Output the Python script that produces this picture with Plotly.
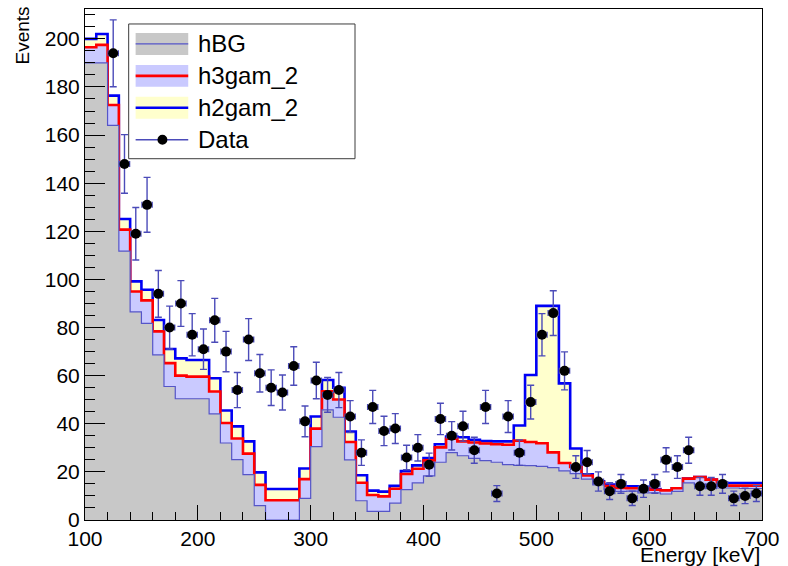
import plotly.graph_objects as go

# ---------------- data ----------------
bin_lo = list(range(100, 700, 10))          # lower bin edges (keV), 10 keV bins
x_max = 700

h_bg = [190, 190, 164, 111.8, 86.5, 81.7, 68.6, 55.5, 50.4, 50.4,
        50.4, 44.1, 32.0, 25.1, 18.9, 6.0, 0, 0, 0, 9.0,
        30.5, 45.8, 42.7, 25.0, 8.0, 3.6, 3.6, 7.0, 12.6, 15.4,
        18.3, 24.0, 28.0, 26.7, 25.6, 24.7, 24.0, 23.0, 22.7, 22.6,
        22.3, 21.8, 20.4, 19.3, 17.0, 14.6, 12.6, 11.9, 12.0, 11.3,
        11.3, 10.8, 11.9, 15.4, 14.7, 13.8, 13.3, 13.3, 13.1, 13.1]

h3gam_2 = [6.5, 7.5, 8.5, 8.9, 8.5, 9.6, 9.8, 9.7, 9.6, 9.2,
           9.2, 9.3, 8.3, 8.8, 8.7, 8.6, 8.2, 8.2, 8.2, 8.0,
           7.5, 7.7, 7.4, 7.4, 7.5, 6.8, 6.2, 6.0, 6.5, 5.9,
           6.5, 6.2, 5.8, 6.0, 6.6, 7.1, 7.5, 8.3, 10.3, 9.8,
           9.6, 6.3, 3.3, 2.7, 1.5, 1.2, 1.5, 1.4, 1.2, 1.9,
           1.3, 1.5, 1.3, 1.8, 3.2, 3.0, 1.0, 1.0, 1.2, 1.2]

h2gam_2 = [3.5, 4.5, 3.9, 4.4, 4.2, 4.4, 4.7, 5.9, 7.2, 6.9,
           6.9, 5.5, 5.2, 5.0, 5.1, 5.2, 4.7, 4.7, 4.7, 4.4,
           5.0, 4.7, 4.9, 4.4, 3.1, 1.8, 2.0, 1.2, 1.2, 1.4,
           1.0, 1.3, 0.9, 1.7, 1.1, 1.0, 1.2, 1.4, 6.3, 27.9,
           57.1, 60.9, 33.1, 7.7, 0.5, 0.3, 0.6, 0.7, 0.8, 0.6,
           0.3, 0, 0, 0, 0, 0, 1.1, 1.1, 1.1, 1.1]

data_x = list(range(125, 700, 10))
data_y = [194, 148, 119, 131, 94, 80, 90, 77, 71, 83,
          70, 54, 75, 61, 55, 53, 64, 41, 58, 52,
          54, 43, 28, 47, 37, 38, 26, 30, 23, 42,
          35, 39, 29, 47, 11, 43, 28, 49, 77, 86,
          62, 22, 24, 16, 12, 15, 9, 13, 15, 25,
          22, 29, 14, 14, 15, 9, 10, 11]
data_err = [13.9, 12.2, 10.9, 11.4, 9.7, 8.9, 9.5, 8.8, 8.4, 9.1,
            8.4, 7.3, 8.7, 7.8, 7.4, 7.3, 8.0, 6.4, 7.6, 7.2,
            7.3, 6.6, 5.3, 6.9, 6.1, 6.2, 5.1, 5.5, 4.8, 6.5,
            5.9, 6.2, 5.4, 6.9, 3.3, 6.6, 5.3, 7.0, 8.8, 9.3,
            7.9, 4.7, 4.9, 4.0, 3.5, 3.9, 3.0, 3.6, 3.9, 5.0,
            4.7, 5.4, 3.7, 3.7, 3.9, 3.0, 3.2, 3.3]
data_xerr = [4.5] * len(data_x)

# ---------------- styles ----------------
FONT = "Liberation Sans, Arial, sans-serif"
C_GRAY = "rgb(200,200,200)"
C_BGLINE = "rgb(85,85,200)"
C_LBLUE = "rgb(202,202,255)"
C_YELLOW = "rgb(255,255,205)"
C_RED = "rgb(255,0,0)"
C_BLUE = "rgb(0,0,245)"
C_ERR = "rgb(75,75,185)"

# stacked totals
stack_red = [b + a for b, a in zip(h_bg, h3gam_2)]
stack_blue = [r + c for r, c in zip(stack_red, h2gam_2)]

xs = bin_lo + [x_max]


def steps(v):
    return list(v) + [v[-1]]


fig = go.Figure()
# ROOT THStack draws the total first, then the lower components on top
fig.add_trace(go.Scatter(x=xs, y=steps(stack_blue), mode="lines", line_shape="hv",
                         line=dict(color=C_BLUE, width=2.6), fill="tozeroy",
                         fillcolor=C_YELLOW, name="h2gam_2", showlegend=False,
                         hoverinfo="skip"))
fig.add_trace(go.Scatter(x=xs, y=steps(stack_red), mode="lines", line_shape="hv",
                         line=dict(color=C_RED, width=2.6), fill="tozeroy",
                         fillcolor=C_LBLUE, name="h3gam_2", showlegend=False,
                         hoverinfo="skip"))
fig.add_trace(go.Scatter(x=xs, y=steps(h_bg), mode="lines", line_shape="hv",
                         line=dict(color=C_BGLINE, width=1.2), fill="tozeroy",
                         fillcolor=C_GRAY, name="hBG", showlegend=False,
                         hoverinfo="skip"))
fig.add_trace(go.Scatter(x=data_x, y=data_y, mode="markers", name="Data",
                         marker=dict(color="black", size=10, symbol="circle"),
                         error_y=dict(type="data", array=data_err, color=C_ERR,
                                      thickness=1.4, width=3.5),
                         error_x=dict(type="data", array=data_xerr, color=C_ERR,
                                      thickness=1.4, width=3),
                         showlegend=False))

# ---------------- layout ----------------
L, R, T, B = 85, 21, 8, 46
W, H = 788 - L - R, 566 - T - B


def px(x):
    return (x - L) / W


def py(y):
    return 1 - (y - T) / H


shapes = []
annotations = []
# legend box
shapes.append(dict(type="rect", xref="paper", yref="paper",
                   x0=px(129), x1=px(357), y0=py(158), y1=py(23),
                   line=dict(color="rgb(60,60,60)", width=1), fillcolor="white"))
entries = [("hBG", 43, C_GRAY, C_BGLINE, 1.2),
           ("h3gam_2", 75, C_LBLUE, C_RED, 2.6),
           ("h2gam_2", 107, C_YELLOW, C_BLUE, 2.6)]
for name, yc, fc, lc, lw in entries:
    shapes.append(dict(type="rect", xref="paper", yref="paper",
                       x0=px(136), x1=px(189), y0=py(yc + 11), y1=py(yc - 11),
                       line=dict(width=0), fillcolor=fc))
    shapes.append(dict(type="line", xref="paper", yref="paper",
                       x0=px(136), x1=px(189), y0=py(yc), y1=py(yc),
                       line=dict(color=lc, width=lw)))
    annotations.append(dict(text=name, xref="paper", yref="paper", x=px(197), y=py(yc),
                            xanchor="left", yanchor="middle", showarrow=False,
                            font=dict(family=FONT, size=24, color="black")))
# Data legend entry
shapes.append(dict(type="line", xref="paper", yref="paper",
                   x0=px(136), x1=px(189), y0=py(139), y1=py(139),
                   line=dict(color=C_ERR, width=1.4)))
shapes.append(dict(type="circle", xref="paper", yref="paper",
                   x0=px(158), x1=px(168), y0=py(144), y1=py(134),
                   line=dict(width=0), fillcolor="black"))
annotations.append(dict(text="Data", xref="paper", yref="paper", x=px(197), y=py(139),
                        xanchor="left", yanchor="middle", showarrow=False,
                        font=dict(family=FONT, size=24, color="black")))
# axis titles
annotations.append(dict(text="Energy [keV]", xref="paper", yref="paper",
                        x=1.0, y=py(555), xanchor="right", yanchor="middle",
                        showarrow=False, font=dict(family=FONT, size=21, color="black")))
annotations.append(dict(text="Events", xref="paper", yref="paper",
                        x=px(22), y=py(3), xanchor="center", yanchor="top",
                        textangle=-90, showarrow=False,
                        font=dict(family=FONT, size=19, color="black")))

fig.update_layout(
    width=788, height=566,
    margin=dict(l=L, r=R, t=T, b=B, pad=0),
    paper_bgcolor="white", plot_bgcolor="white",
    font=dict(family=FONT, size=21, color="black"),
    shapes=shapes, annotations=annotations,
    showlegend=False,
    xaxis=dict(range=[100, 700], dtick=100, tick0=100, ticks="inside", ticklen=15,
               tickwidth=1, tickcolor="black", showline=True, linecolor="black",
               linewidth=1, mirror=True, showgrid=False, zeroline=False,
               tickfont=dict(family=FONT, size=21),
               minor=dict(dtick=20, tick0=100, ticks="inside", ticklen=8,
                          tickcolor="black", showgrid=False)),
    yaxis=dict(range=[0, 212.4], dtick=20, tick0=0, ticks="inside", ticklen=20,
               tickwidth=1, tickcolor="black", showline=True, linecolor="black",
               linewidth=1, mirror=True, showgrid=False, zeroline=False,
               tickfont=dict(family=FONT, size=21),
               minor=dict(dtick=5, tick0=0, ticks="inside", ticklen=10,
                          tickcolor="black", showgrid=False)),
)

fig.write_html("out.html")
